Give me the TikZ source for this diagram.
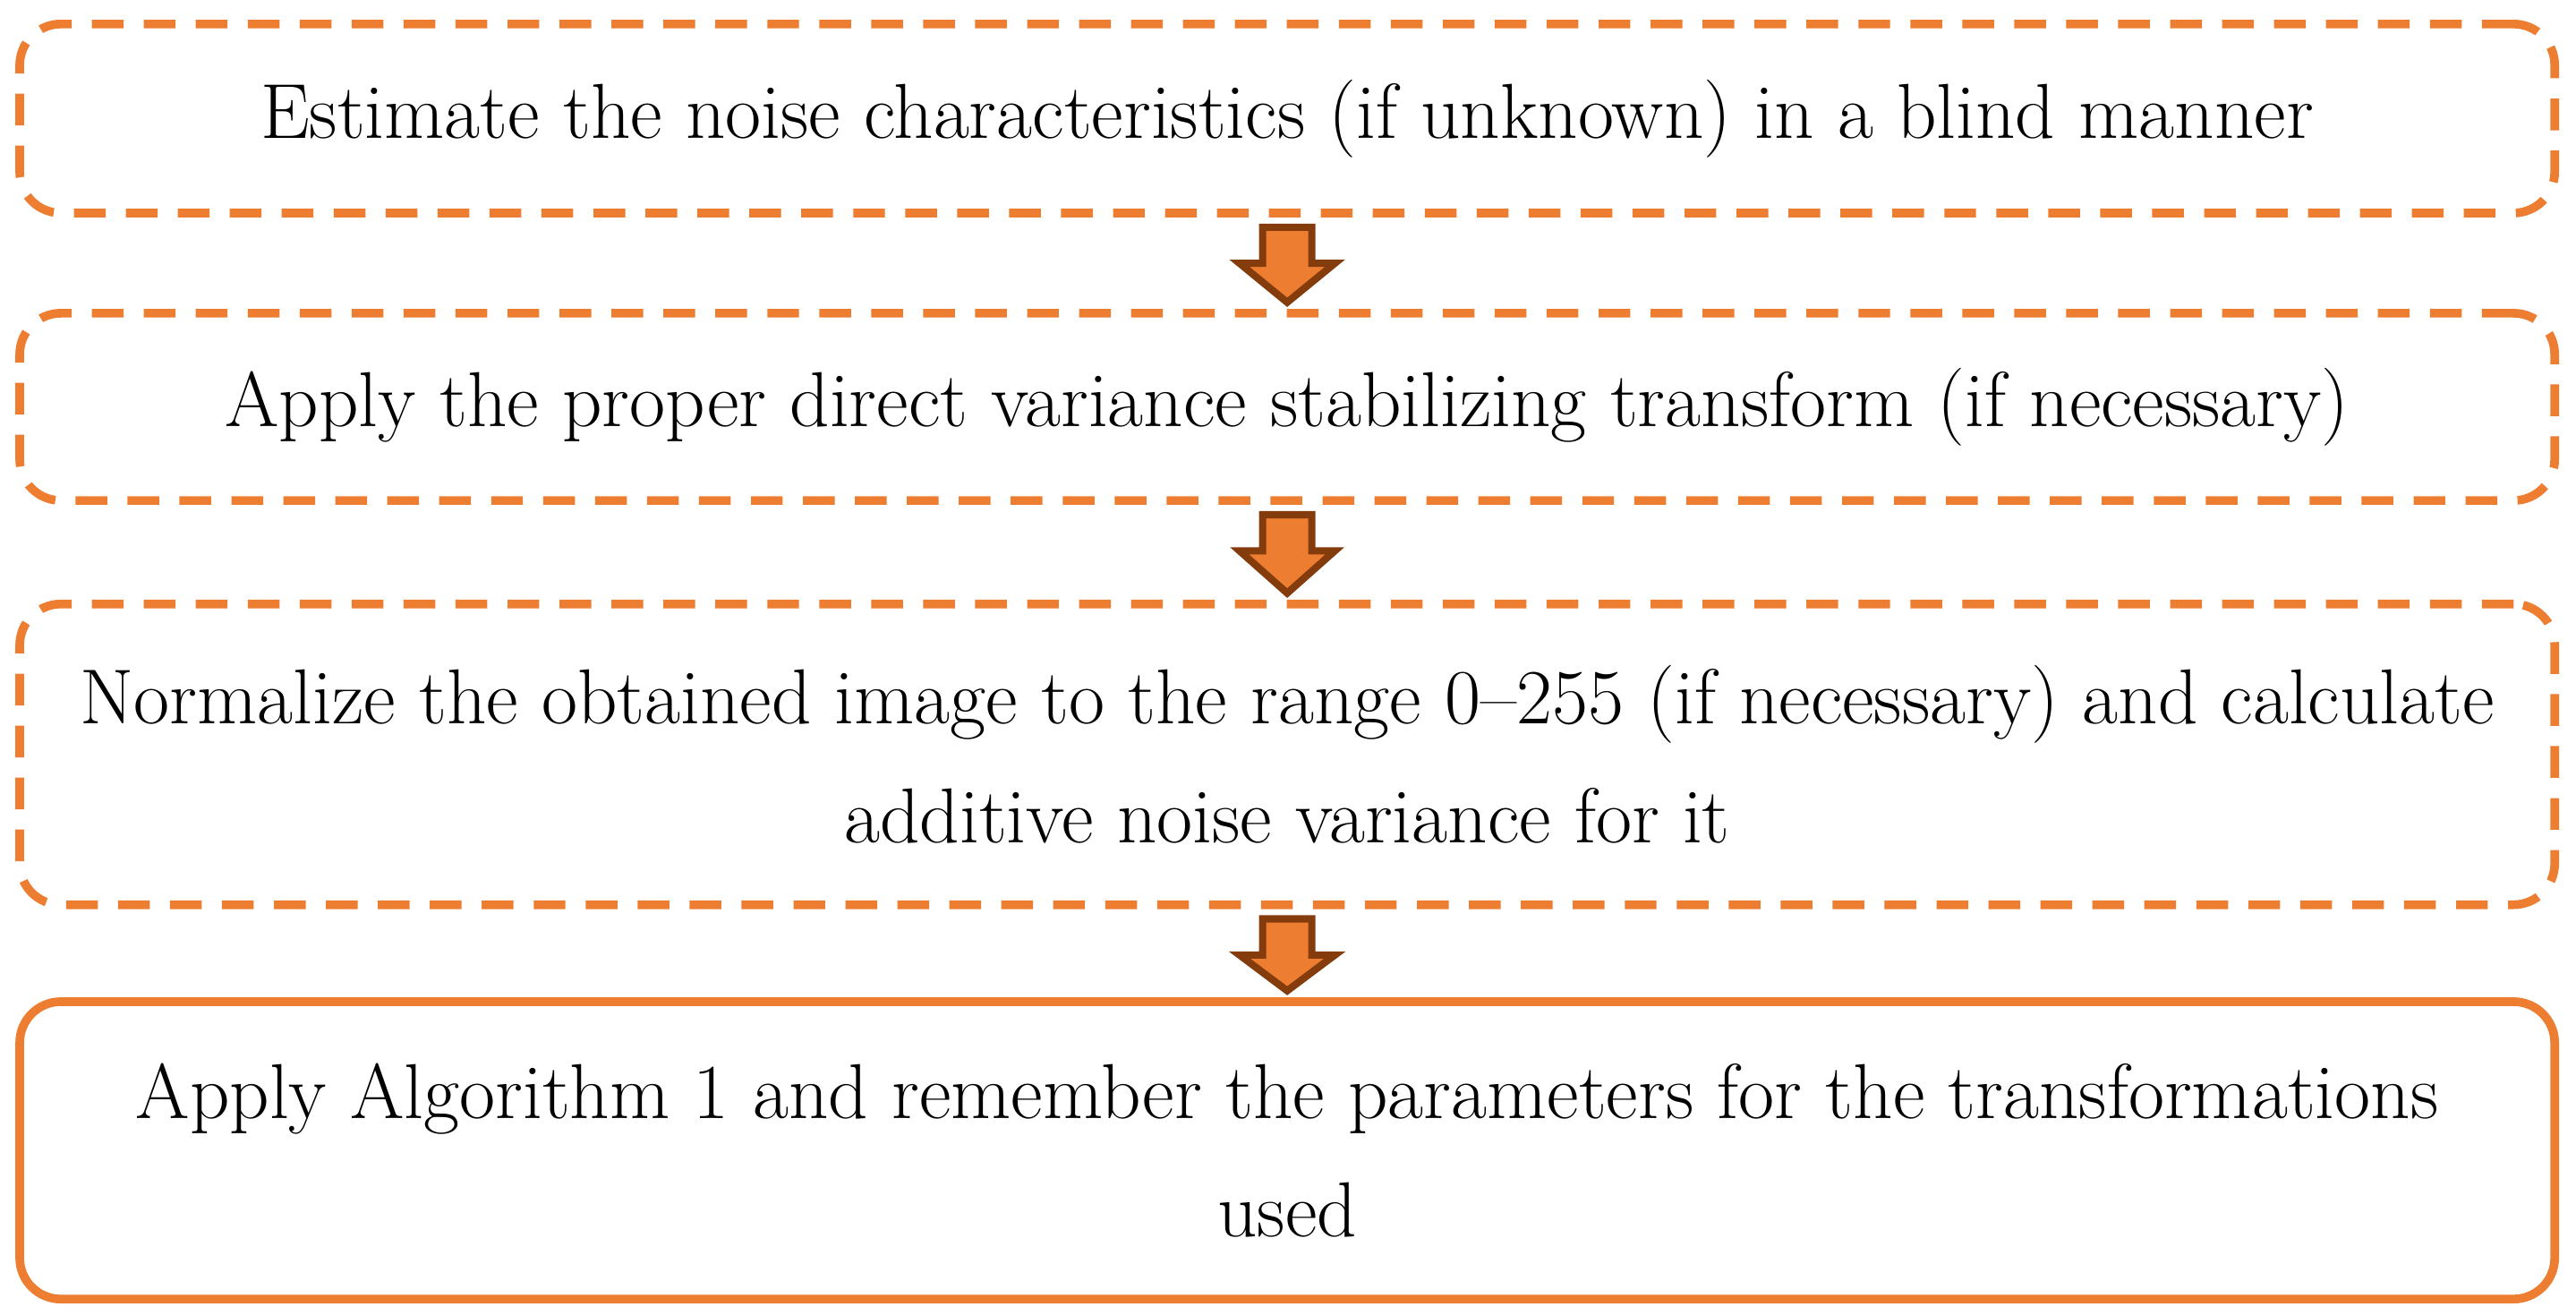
\documentclass[tikz,border=0pt]{standalone}
\usepackage{fontspec}
\usetikzlibrary{calc}
\definecolor{orng}{HTML}{ED7D31}
\definecolor{brn}{HTML}{843C0C}
\begin{document}
\begin{tikzpicture}[x=0.02cm,y=-0.02cm,
  box/.style={draw=orng,line width=3pt,rounded corners=0.5cm,dash pattern=on 11pt off 7pt,minimum width=1543*0.02cm,align=center,font=\fontsize{27}{41}\selectfont,anchor=north},
  solidbox/.style={box,solid},
  blockarrow/.style={fill=orng,draw=brn,line width=2.5pt,line join=miter}]
\useasboundingbox (0,0) rectangle (1568,800);
\node[box,minimum height=115*0.02cm] (b1) at (783.5,12) {Estimate the noise characteristics (if unknown) in a blind manner};
\node[box,minimum height=114*0.02cm] (b2) at (783.5,188) {Apply the proper direct variance stabilizing transform (if necessary)};
\node[box,minimum height=183*0.02cm] (b3) at (783.5,365) {Normalize the obtained image to the range 0--255 (if necessary) and calculate\\additive noise variance for it};
\node[solidbox,minimum height=181*0.02cm] (b4) at (783.5,607) {Apply Algorithm 1 and remember the parameters for the transformations\\used};
\foreach \a/\b in {b1/b2,b2/b3,b3/b4}{
  \draw[blockarrow] ($(\a.south)+(-15,6)$) -- ($(\a.south)+(15,6)$) -- ($(\a.south)+(15,28)$) -- ($(\a.south)+(29,28)$) -- ($(\b.north)+(0,-4)$) -- ($(\a.south)+(-29,28)$) -- ($(\a.south)+(-15,28)$) -- cycle;
}
\end{tikzpicture}
\end{document}
